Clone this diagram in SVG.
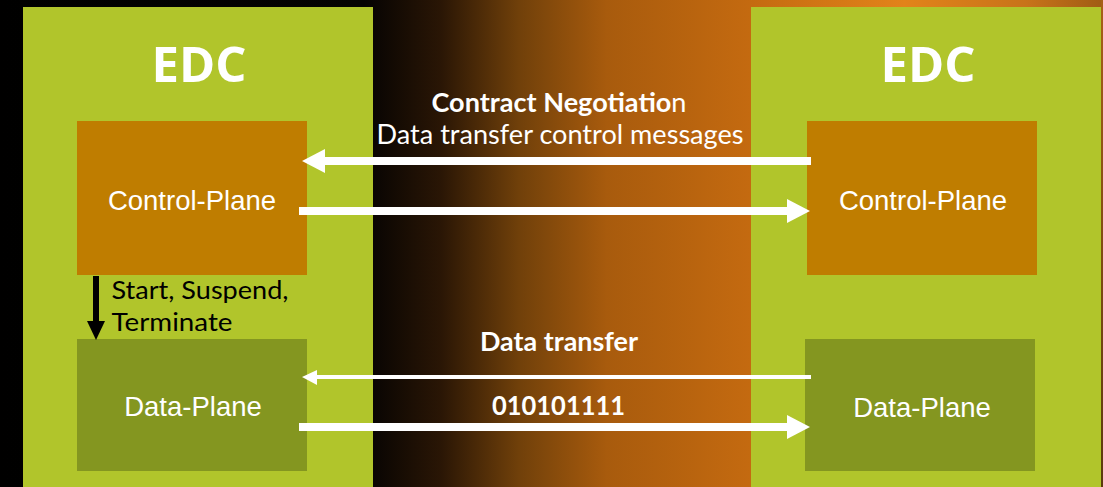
<svg xmlns="http://www.w3.org/2000/svg" width="1103" height="487" viewBox="0 0 1103 487">
  <defs>
    <linearGradient id="bg" gradientUnits="userSpaceOnUse" x1="0" y1="0" x2="1103" y2="0">
      <stop offset="0" stop-color="#000000"/>
      <stop offset="0.33" stop-color="#050302"/>
      <stop offset="0.40" stop-color="#2a1605"/>
      <stop offset="0.47" stop-color="#70400a"/>
      <stop offset="0.55" stop-color="#a85b0d"/>
      <stop offset="0.68" stop-color="#c46a10"/>
      <stop offset="0.82" stop-color="#e2831a"/>
      <stop offset="0.93" stop-color="#c8731a"/>
      <stop offset="1" stop-color="#a05c14"/>
    </linearGradient>
    <linearGradient id="edge" x1="0" y1="0" x2="0" y2="1">
      <stop offset="0" stop-color="#a86016"/>
      <stop offset="1" stop-color="#5a3a0c"/>
    </linearGradient>
    <style>
      .edc { fill: #b1c52b; }
      .cp { fill: #bf7d00; }
      .dp { fill: #849620; }
      .title { font-family: "Open Sans", "Liberation Sans", sans-serif; font-weight: bold; font-size: 49px; fill: #ffffff; text-anchor: middle; }
      .plane { font-family: "Liberation Sans", Arial, sans-serif; font-size: 27.5px; fill: #ffffff; text-anchor: middle; }
      .lbl { font-family: Lato, "Open Sans", sans-serif; font-size: 26px; fill: #ffffff; text-anchor: middle; }
      .b { font-weight: bold; }
      .blk { font-family: Lato, "Open Sans", sans-serif; font-size: 25.5px; fill: #000000; }
      .wline { fill: #ffffff; }
      .whead { fill: #ffffff; }
    </style>
  </defs>

  <g id="background">
    <rect x="0" y="0" width="1103" height="487" fill="url(#bg)"/>
    <rect x="1101" y="0" width="2" height="487" fill="url(#edge)"/>
  </g>

  <g id="edc-left">
    <rect class="edc" x="23" y="7" width="350" height="480"/>
    <text class="title" x="199" y="82" textLength="95" lengthAdjust="spacingAndGlyphs">EDC</text>
  </g>
  <g id="edc-right">
    <rect class="edc" x="751" y="7" width="350" height="480"/>
    <text class="title" x="928" y="82" textLength="95" lengthAdjust="spacingAndGlyphs">EDC</text>
  </g>

  <g id="control-plane-left">
    <rect class="cp" x="77" y="121" width="230" height="154"/>
    <text class="plane" x="192" y="210">Control-Plane</text>
  </g>
  <g id="data-plane-left">
    <rect class="dp" x="77" y="339" width="230" height="132"/>
    <text class="plane" x="193" y="416">Data-Plane</text>
  </g>
  <g id="control-plane-right">
    <rect class="cp" x="807" y="121" width="230" height="154"/>
    <text class="plane" x="923" y="210">Control-Plane</text>
  </g>
  <g id="data-plane-right">
    <rect class="dp" x="805" y="339" width="230" height="132"/>
    <text class="plane" x="922" y="416.5">Data-Plane</text>
  </g>

  <g id="connectors">
    <!-- control messages: right to left -->
    <rect class="wline" x="322" y="157" width="489" height="8"/>
    <polygon class="whead" points="302,161 325,149 325,173"/>
    <!-- control messages: left to right -->
    <rect class="wline" x="299" y="207" width="491" height="8"/>
    <polygon class="whead" points="810,211 787,199 787,223"/>
    <!-- data transfer: right to left -->
    <rect class="wline" x="315" y="375" width="496" height="4"/>
    <polygon class="whead" points="302,377 317,370 317,385"/>
    <!-- data transfer: left to right -->
    <rect class="wline" x="299" y="423" width="491" height="8"/>
    <polygon class="whead" points="810,427 787,415 787,439"/>
    <!-- start/suspend/terminate -->
    <rect x="93" y="276" width="6" height="47" fill="#000000"/>
    <polygon points="87,321 105,321 96,340" fill="#000000"/>
  </g>

  <g id="labels">
    <text class="lbl" x="559" y="112" textLength="255" lengthAdjust="spacingAndGlyphs"><tspan class="b">Contract Negotiatio</tspan>n</text>
    <text class="lbl" x="560" y="143.5" textLength="367" lengthAdjust="spacingAndGlyphs">Data transfer control messages</text>
    <text class="lbl b" x="559" y="351" font-size="25" textLength="158" lengthAdjust="spacingAndGlyphs">Data transfer</text>
    <text class="lbl b" x="558.5" y="415" font-size="25" textLength="133" lengthAdjust="spacingAndGlyphs">010101111</text>
    <text class="blk" x="111.5" y="298.5" textLength="177" lengthAdjust="spacingAndGlyphs">Start, Suspend,</text>
    <text class="blk" x="111.5" y="330.5" textLength="121" lengthAdjust="spacingAndGlyphs">Terminate</text>
  </g>
</svg>
